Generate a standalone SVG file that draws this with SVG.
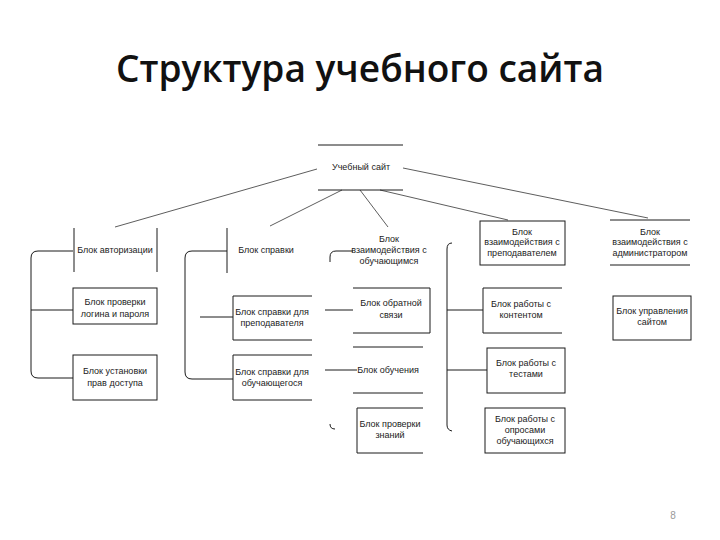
<svg xmlns="http://www.w3.org/2000/svg" width="720" height="540" viewBox="0 0 720 540">
<style>
  .t { font-family: "Liberation Sans", Arial, sans-serif; font-size: 9px; fill: #222; text-anchor: middle; }
  .s { fill: none; stroke: #1a1a1a; stroke-width: 1; }
  .c { fill: none; stroke: #333; stroke-width: 0.8; }
  .title { font-family: "Open Sans", "Noto Sans", sans-serif; font-size: 38px; font-weight: 600; fill: #111; text-anchor: middle; }
</style>
<rect width="720" height="540" fill="#fff"/>
<text class="title" x="360" y="82" textLength="488" lengthAdjust="spacingAndGlyphs">Структура учебного сайта</text>

<g id="connectors">
  <line class="c" x1="317" y1="169" x2="115" y2="227"/>
  <line class="c" x1="342" y1="190" x2="270" y2="226"/>
  <line class="c" x1="360" y1="190" x2="388" y2="227"/>
  <line class="c" x1="380" y1="190" x2="508" y2="220"/>
  <line class="c" x1="403" y1="168" x2="648" y2="218"/>
  <!-- col1 bracket -->
  <path class="s" d="M73,251 H38 Q31,251 31,258 V371 Q31,378 38,378 H73 M31,310 H73"/>
  <!-- col2 bracket -->
  <path class="s" d="M227,251 H192 Q185,251 185,258 V372 Q185,379 192,379 H233 M200,317 H233"/>
  <!-- col3 bracket -->
  <path class="s" d="M353,251 H336 Q330,251 330,257 V262 M330,424 Q330,429 335,429 M325,310 H353 M325,370 H357"/>
  <!-- col4 bracket -->
  <path class="s" d="M452,243 Q447,243 447,249 V425 Q447,430 452,431 M447,310 H483 M447,370 H487"/>
</g>

<g id="root">
  <path class="s" d="M318,145 H403 M318,190 H403"/>
  <text class="t" x="361" y="170">Учебный сайт</text>
</g>

<g id="auth">
  <path class="s" d="M74,228 V272 M157,228 V272"/>
  <text class="t" x="115" y="253">Блок авторизации</text>
</g>
<g id="auth-check">
  <rect class="s" x="73" y="288" width="84" height="36"/>
  <text class="t" x="115" y="305">Блок проверки</text>
  <text class="t" x="115" y="317">логина и пароля</text>
</g>
<g id="auth-rights">
  <rect class="s" x="73" y="355" width="84" height="45"/>
  <text class="t" x="115" y="374">Блок установки</text>
  <text class="t" x="115" y="386">прав доступа</text>
</g>

<g id="help">
  <path class="s" d="M227,228 V273"/>
  <text class="t" x="266" y="253">Блок справки</text>
</g>
<g id="help-teacher">
  <path class="s" d="M312,296 H233 V340 H312"/>
  <text class="t" x="272" y="315">Блок справки для</text>
  <text class="t" x="272" y="326">преподавателя</text>
</g>
<g id="help-student">
  <path class="s" d="M312,355 H233 V400 H312"/>
  <text class="t" x="272" y="375">Блок справки для</text>
  <text class="t" x="272" y="386">обучающегося</text>
</g>

<g id="student">
  <text class="t" x="389" y="242">Блок</text>
  <text class="t" x="389" y="253">взаимодействия с</text>
  <text class="t" x="389" y="264">обучающимся</text>
</g>
<g id="feedback">
  <path class="s" d="M353,288 H430 V333 H353"/>
  <text class="t" x="391" y="306">Блок обратной</text>
  <text class="t" x="391" y="318">связи</text>
</g>
<g id="learning">
  <path class="s" d="M353,347 H423 M353,393 H423"/>
  <text class="t" x="388" y="373">Блок обучения</text>
</g>
<g id="knowledge">
  <path class="s" d="M423,408 H357 V453 H423"/>
  <text class="t" x="390" y="427">Блок проверки</text>
  <text class="t" x="390" y="438">знаний</text>
</g>

<g id="teacher">
  <rect class="s" x="480" y="221" width="85" height="44"/>
  <text class="t" x="522" y="235">Блок</text>
  <text class="t" x="522" y="245">взаимодействия с</text>
  <text class="t" x="522" y="256">преподавателем</text>
</g>
<g id="content">
  <path class="s" d="M562,288 H483 V333 H562"/>
  <text class="t" x="521" y="307">Блок работы с</text>
  <text class="t" x="521" y="318">контентом</text>
</g>
<g id="tests">
  <rect class="s" x="487" y="348" width="78" height="45"/>
  <text class="t" x="526" y="366">Блок работы с</text>
  <text class="t" x="526" y="377">тестами</text>
</g>
<g id="surveys">
  <rect class="s" x="485" y="408" width="80" height="45"/>
  <text class="t" x="525" y="422">Блок работы с</text>
  <text class="t" x="525" y="433">опросами</text>
  <text class="t" x="525" y="444">обучающихся</text>
</g>

<g id="admin">
  <path class="s" d="M610,220 H690 M610,265 H690"/>
  <text class="t" x="650" y="235">Блок</text>
  <text class="t" x="650" y="245">взаимодействия с</text>
  <text class="t" x="650" y="256">администратором</text>
</g>
<g id="site-mgmt">
  <rect class="s" x="613" y="296" width="78" height="44"/>
  <text class="t" x="652" y="314">Блок управления</text>
  <text class="t" x="652" y="325">сайтом</text>
</g>

<text x="673" y="519" style="font-family:'Liberation Sans',Arial,sans-serif;font-size:10px;fill:#999;text-anchor:middle">8</text>
</svg>
